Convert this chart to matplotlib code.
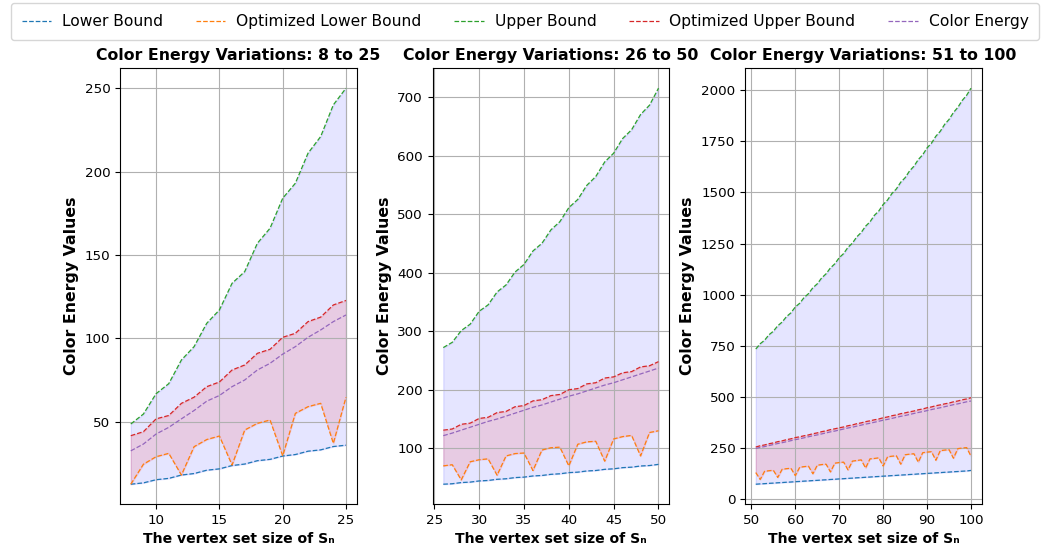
# COLOR ENERGY VARIATIONS: BOUNDS VS COLOR ENERGY FOR THREE RANGES OF n

# IMPORT LIBRARIES
import matplotlib
matplotlib.use('Agg')
import matplotlib.pyplot as plt
from matplotlib.ticker import MultipleLocator

# DATA: RANGE 8 TO 25
n_1 = list(range(8, 26))
lower_1 = [12.5, 13.3, 15.2, 16.0, 18.0, 18.9, 20.9, 21.7, 23.7, 24.6, 26.6, 27.4, 29.4, 30.3, 32.3, 33.1, 35.1, 35.9]
opt_lower_1 = [12.5, 24.5, 29, 31, 18, 35, 39.3, 41.4, 24, 45, 49, 51, 29.5, 55, 59, 61, 37, 64.7]
upper_1 = [48.6, 54.6, 66.8, 72.8, 87, 95, 109, 117, 133, 140, 157, 166, 184, 193, 211, 221, 240, 250]
opt_upper_1 = [41.6, 44, 51.7, 53.7, 61, 64.7, 71, 73.8, 81, 84, 91, 93.4, 100.6, 103, 110, 112.7, 120, 122.7]
energy_1 = [32.5, 36.6, 42.6, 46.6, 51.7, 56.7, 62.3, 65.7, 71, 75, 81, 85, 90.5, 95, 100.6, 105, 110, 114]

# DATA: RANGE 26 TO 50
n_2 = list(range(26, 51))
lower_2 = [38.7, 39.5, 41.5, 42.3, 44.3, 45.1, 47.1, 48.0, 50.0, 50.8, 52.8, 53.6, 55.6, 56.5, 58.5, 59.3,
           61.3, 62.1, 64.1, 65.0, 67.0, 67.8, 69.8, 70.6, 72.6]
opt_lower_2 = [70, 72, 46, 77, 80.5, 82, 54, 87, 91, 92, 62, 97, 101, 102, 70, 107, 111, 112, 78, 116, 120,
               122, 87, 127, 130]
upper_2 = [272, 281, 301, 312, 334, 345, 367, 379, 401, 414, 437, 450, 473, 487, 511, 525, 549, 564, 589, 604,
           629, 644, 670, 686, 715]
opt_upper_2 = [131, 133, 141, 143, 151, 153, 161, 163, 171, 173, 181, 183, 190, 192, 200, 202, 210, 212, 220,
               222, 229, 231, 239, 241, 248]
energy_2 = [121.6, 126, 131, 136, 141, 146, 150, 155, 160, 165, 170, 174, 179, 184, 189, 193, 198, 203, 208,
            212, 217, 222, 227, 232, 237]

# DATA: RANGE 51 TO 100
n_3 = list(range(51, 101))
lower_3 = [73.0, 74.6, 75.7, 77.3, 78.4, 80.0, 81.1, 82.7, 83.8, 85.4, 86.5, 88.1, 89.2, 90.8, 91.9, 93.5,
           94.6, 96.2, 97.3, 98.9, 100.0, 101.6, 102.7, 104.3, 105.4, 107.0, 108.1, 109.7, 110.8, 112.4,
           113.5, 115.1, 116.2, 117.8, 118.9, 120.5, 121.6, 123.2, 124.3, 125.9, 127.0, 128.6, 129.7, 131.3,
           132.4, 134.0, 135.1, 136.7, 137.8, 140.4]
opt_lower_3 = [130, 96, 136, 139, 141, 106, 146, 149, 151, 115, 156, 159, 161, 124, 166, 169, 171, 133, 176,
               179, 181, 143, 186, 189, 192, 152, 197, 199, 202, 162, 207, 210, 212, 171, 217, 220, 222, 181,
               227, 230, 232, 190, 237, 240, 242, 200, 247, 250, 252, 210]
upper_3 = [734, 760, 777, 804, 821, 848, 866, 893, 911, 940, 958, 986, 1005, 1034, 1053, 1082, 1102, 1131,
           1151, 1181, 1201, 1232, 1252, 1283, 1304, 1335, 1356, 1388, 1409, 1441, 1463, 1495, 1517, 1550,
           1572, 1605, 1628, 1661, 1684, 1718, 1741, 1775, 1799, 1833, 1857, 1891, 1916, 1950, 1975, 2010]
opt_upper_3 = [255, 261, 265, 271, 275, 281, 285, 291, 295, 301, 305, 310, 314, 320, 324, 330, 334, 340, 344,
               349, 353, 359, 363, 369, 373, 379, 383, 388, 392, 398, 402, 408, 412, 418, 422, 427, 431, 437,
               441, 447, 451, 457, 461, 466, 470, 476, 480, 486, 490, 496]
energy_3 = [248, 253, 257, 262, 267, 272, 276, 281, 286, 291, 295, 300, 305, 310, 314, 319, 324, 329, 333,
            338, 343, 348, 352, 357, 362, 367, 371, 376, 381, 386, 390, 395, 400, 405, 409, 414, 419, 424,
            428, 433, 438, 443, 447, 452, 457, 462, 466, 471, 476, 480]

panels = [
    ("8 to 25", n_1, lower_1, opt_lower_1, upper_1, opt_upper_1, energy_1, 5),
    ("26 to 50", n_2, lower_2, opt_lower_2, upper_2, opt_upper_2, energy_2, 5),
    ("51 to 100", n_3, lower_3, opt_lower_3, upper_3, opt_upper_3, energy_3, 10),
]

# FIGURE
fig, axes = plt.subplots(1, 3, figsize=(10.5, 5.56), dpi=100)
fig.subplots_adjust(left=0.1143, right=0.935, bottom=0.0935, top=0.877, wspace=0.32)

for ax, (label, n, lo, olo, up, oup, en, step) in zip(axes, panels):
    ax.plot(n, lo, linestyle='--', linewidth=0.9, color='tab:blue', label='Lower Bound')
    ax.plot(n, olo, linestyle='--', linewidth=0.9, color='tab:orange', label='Optimized Lower Bound')
    ax.plot(n, up, linestyle='--', linewidth=0.9, color='tab:green', label='Upper Bound')
    ax.plot(n, oup, linestyle='--', linewidth=0.9, color='tab:red', label='Optimized Upper Bound')
    ax.plot(n, en, linestyle='--', linewidth=0.9, color='tab:purple', label='Color Energy')
    ax.fill_between(n, lo, up, color='blue', alpha=0.1)  # BOUNDS REGION
    ax.fill_between(n, olo, oup, color='red', alpha=0.11)  # OPTIMIZED REGION
    ax.set_title("Color Energy Variations: " + label, fontsize=11.3, fontweight='bold')
    ax.set_xlabel("The vertex set size of S\u2099", fontsize=10.1, fontweight='bold')
    ax.set_ylabel("Color Energy Values", fontsize=11.3, fontweight='bold')
    ax.xaxis.set_major_locator(MultipleLocator(step))
    ax.tick_params(labelsize=9.7)
    ax.grid(True)

# LEGEND ON TOP
handles, labels = axes[0].get_legend_handles_labels()
fig.legend(handles, labels, loc='upper center', bbox_to_anchor=(0.5, 1.0), ncol=5, fontsize=11.2,
           columnspacing=2.1, handlelength=1.9, handletextpad=0.7, borderpad=0.7, borderaxespad=0.2)

fig.savefig('out.png', dpi=100)
